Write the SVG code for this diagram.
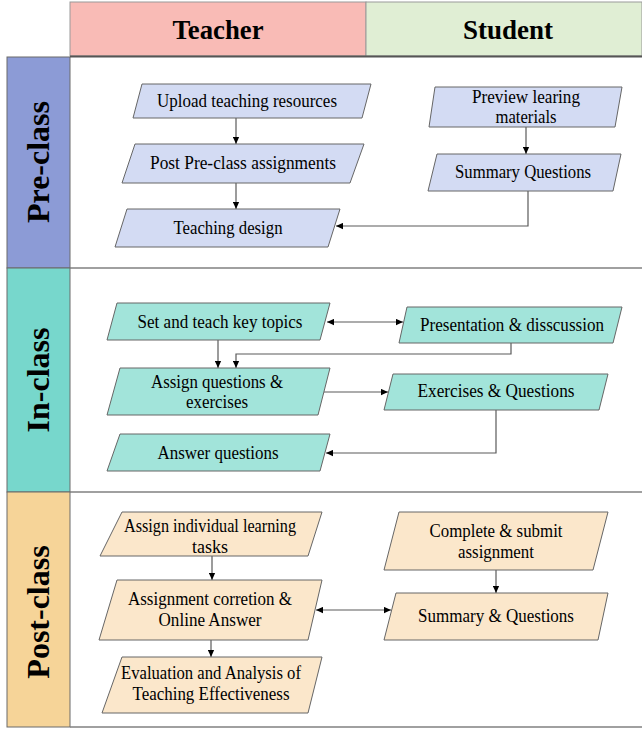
<svg xmlns="http://www.w3.org/2000/svg" width="642" height="730" viewBox="0 0 642 730">
<defs>
<style>
.t{font-family:"Liberation Serif","Times New Roman",serif;font-size:18px;fill:#000;text-anchor:middle;dominant-baseline:central}
.h{font-family:"Liberation Serif","Times New Roman",serif;font-size:28px;font-weight:bold;fill:#000;text-anchor:middle;dominant-baseline:central}
.lab{font-family:"Liberation Serif","Times New Roman",serif;font-size:32px;font-weight:bold;fill:#000;text-anchor:middle;dominant-baseline:central}
.pre{fill:#D3DBF3;stroke:#666;stroke-width:1}
.in{fill:#A2E4DA;stroke:#666;stroke-width:1}
.post{fill:#FBE7CB;stroke:#666;stroke-width:1}
.c{fill:none;stroke:#5a5a5a;stroke-width:1.2}
.grid{stroke:#808080;stroke-width:1.5;fill:none}
</style>
<marker id="arr" viewBox="0 0 10 10" refX="10" refY="5" markerWidth="8" markerHeight="7" markerUnits="userSpaceOnUse" orient="auto-start-reverse">
<path d="M0,0.5 L10,5 L0,9.5 z" fill="#000"/>
</marker>
</defs>
<rect width="642" height="730" fill="#fff"/>
<g id="header">
<rect x="70" y="2" width="296" height="54" fill="#F9BBB6" stroke="#999" stroke-width="1"/>
<rect x="366" y="2" width="276" height="54" fill="#E0EED4" stroke="#999" stroke-width="1"/>
<text class="h" x="218" y="29" textLength="91" lengthAdjust="spacingAndGlyphs">Teacher</text>
<text class="h" x="508" y="29" textLength="90" lengthAdjust="spacingAndGlyphs">Student</text>
</g>
<g id="lanes">
<rect x="7" y="57" width="63" height="211" fill="#8C9BD6" stroke="#6a6a6a" stroke-width="1"/>
<rect x="7" y="268" width="63" height="224" fill="#77D7CC" stroke="#6a6a6a" stroke-width="1"/>
<rect x="7" y="492" width="63" height="235" fill="#F6D498" stroke="#6a6a6a" stroke-width="1"/>
<line x1="70" y1="56.5" x2="642" y2="56.5" stroke="#555" stroke-width="2"/>
<line class="grid" x1="70" y1="268" x2="642" y2="268"/>
<line class="grid" x1="70" y1="492" x2="642" y2="492"/>
<line class="grid" x1="70" y1="727" x2="642" y2="727"/>
<text class="lab" transform="translate(38,162) rotate(-90)">Pre-class</text>
<text class="lab" transform="translate(38,380) rotate(-90)">In-class</text>
<text class="lab" transform="translate(38,612) rotate(-90)">Post-class</text>
</g>
<g id="connectors">
<path class="c" d="M236,118 V144" marker-end="url(#arr)"/>
<path class="c" d="M236,183 V209" marker-end="url(#arr)"/>
<path class="c" d="M526,127 V154" marker-end="url(#arr)"/>
<path class="c" d="M528,191 V226 H336" marker-end="url(#arr)"/>
<path class="c" d="M327,322 H403" marker-start="url(#arr)" marker-end="url(#arr)"/>
<path class="c" d="M218,340 V368" marker-end="url(#arr)"/>
<path class="c" d="M511,343 V354 H236 V368" marker-end="url(#arr)"/>
<path class="c" d="M324,392 H388" marker-end="url(#arr)"/>
<path class="c" d="M496,410 V453 H326" marker-end="url(#arr)"/>
<path class="c" d="M212,556 V580" marker-end="url(#arr)"/>
<path class="c" d="M496,570 V593" marker-end="url(#arr)"/>
<path class="c" d="M316,610 H391" marker-start="url(#arr)" marker-end="url(#arr)"/>
<path class="c" d="M211,640 V657" marker-end="url(#arr)"/>
</g>
<g id="upload"><polygon class="pre" points="142,84 371,84 362,118 133,118"/><text class="t" x="247" y="101" textLength="180" lengthAdjust="spacingAndGlyphs">Upload teaching resources</text></g>
<g id="post-pre"><polygon class="pre" points="135,144 364,144 350,183 122,183"/><text class="t" x="243" y="163" textLength="186" lengthAdjust="spacingAndGlyphs">Post Pre-class assignments</text></g>
<g id="teaching-design"><polygon class="pre" points="127,209 340,209 328,247 115,247"/><text class="t" x="228" y="228" textLength="109" lengthAdjust="spacingAndGlyphs">Teaching design</text></g>
<g id="preview"><polygon class="pre" points="435,87 622,87 615,127 429,127"/><text class="t" x="526" y="97" textLength="108" lengthAdjust="spacingAndGlyphs">Preview learing</text><text class="t" x="526" y="117" textLength="61" lengthAdjust="spacingAndGlyphs">materials</text></g>
<g id="summary-q"><polygon class="pre" points="437,154 621,154 613,191 428,191"/><text class="t" x="523" y="172" textLength="136" lengthAdjust="spacingAndGlyphs">Summary Questions</text></g>
<g id="set-teach"><polygon class="in" points="117,303 330,303 320,340 107,340"/><text class="t" x="220" y="322" textLength="165" lengthAdjust="spacingAndGlyphs">Set and teach key topics</text></g>
<g id="presentation"><polygon class="in" points="407,307 622,307 613,343 399,343"/><text class="t" x="512" y="325" textLength="184" lengthAdjust="spacingAndGlyphs">Presentation &amp; disscussion</text></g>
<g id="assign-q"><polygon class="in" points="120,368 330,368 318,415 107,415"/><text class="t" x="217" y="382" textLength="132" lengthAdjust="spacingAndGlyphs">Assign questions &amp;</text><text class="t" x="217" y="402" textLength="62" lengthAdjust="spacingAndGlyphs">exercises</text></g>
<g id="exercises"><polygon class="in" points="393,374 608,374 599,410 384,410"/><text class="t" x="496" y="391" textLength="157" lengthAdjust="spacingAndGlyphs">Exercises &amp; Questions</text></g>
<g id="answer"><polygon class="in" points="120,434 330,434 320,471 107,471"/><text class="t" x="218" y="453" textLength="121" lengthAdjust="spacingAndGlyphs">Answer questions</text></g>
<g id="assign-ind"><polygon class="post" points="122,512 322,512 308,556 100,556"/><text class="t" x="210" y="526" textLength="172" lengthAdjust="spacingAndGlyphs">Assign individual learning</text><text class="t" x="210" y="547" textLength="36" lengthAdjust="spacingAndGlyphs">tasks</text></g>
<g id="correction"><polygon class="post" points="117,580 322,580 308,640 99,640"/><text class="t" x="210" y="599" textLength="164" lengthAdjust="spacingAndGlyphs">Assignment corretion &amp;</text><text class="t" x="210" y="620" textLength="103" lengthAdjust="spacingAndGlyphs">Online Answer</text></g>
<g id="evaluation"><polygon class="post" points="122,657 322,657 308,713 102,713"/><text class="t" x="211" y="673" textLength="180" lengthAdjust="spacingAndGlyphs">Evaluation and Analysis of</text><text class="t" x="211" y="694" textLength="157" lengthAdjust="spacingAndGlyphs">Teaching Effectiveness</text></g>
<g id="complete"><polygon class="post" points="399,512 608,512 593,570 384,570"/><text class="t" x="496" y="531" textLength="133" lengthAdjust="spacingAndGlyphs">Complete &amp; submit</text><text class="t" x="496" y="552" textLength="76" lengthAdjust="spacingAndGlyphs">assignment</text></g>
<g id="summary-post"><polygon class="post" points="396,593 608,593 598,640 384,640"/><text class="t" x="496" y="616" textLength="156" lengthAdjust="spacingAndGlyphs">Summary &amp; Questions</text></g>
</svg>
